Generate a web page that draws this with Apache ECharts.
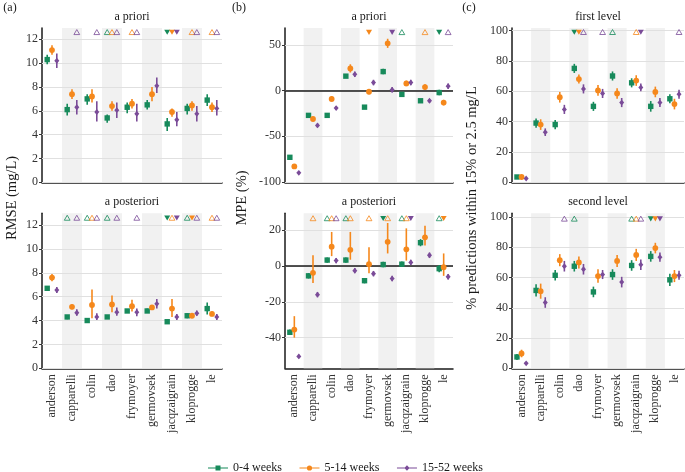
<!DOCTYPE html>
<html><head><meta charset="utf-8">
<script src="https://cdn.jsdelivr.net/npm/echarts@6/dist/echarts.min.js"></script>
<style>html,body{margin:0;padding:0;background:#fff}#c{width:685px;height:472px}</style>
</head><body><div id="c"></div>
<script>
// ---------------- data ----------------
const categories = ['anderson','capparelli','colin','dao','frymoyer','germovsek','jacqzaigrain','kloprogge','le'];
const groups = ['0-4 weeks','5-14 weeks','15-52 weeks'];

// RMSE (mg/L), a priori  [group][category]
const rmsePrioriMean = [[10.3,6.1,7.0,5.4,6.3,6.5,4.9,6.2,6.9],[11.1,7.4,7.2,6.4,6.6,7.4,5.9,6.45,6.3],[10.2,6.3,5.9,6.05,5.75,8.1,5.25,5.75,6.2]];
const rmsePrioriLo   = [[9.9,5.6,6.5,5.0,5.8,6.1,4.3,5.7,6.4],[10.7,7.0,6.7,6.0,6.2,6.8,5.5,6.0,5.9],[9.6,5.7,5.1,5.4,5.1,7.5,4.7,5.1,5.6]];
const rmsePrioriHi   = [[10.7,6.6,7.4,5.7,6.7,6.9,5.4,6.6,7.4],[11.5,7.8,7.8,6.8,7.0,8.0,6.2,6.8,6.7],[10.8,6.9,6.8,6.7,6.6,8.8,5.9,6.4,6.9]];
const rmsePrioriFlags = [['','','','u','','','d','',''],['','','','u','u','','d','u','u'],['','u','u','u','u','','d','u','u']];

// RMSE (mg/L), a posteriori
const rmsePostMean = [[6.7,4.3,4.0,4.3,4.8,4.8,3.9,4.4,5.0],[7.6,5.15,5.3,5.35,5.2,5.1,5.0,4.4,4.55],[6.55,4.65,4.3,4.7,4.7,5.4,4.3,4.6,4.3]];
const rmsePostLo   = [[6.5,4.1,3.85,4.15,4.65,4.65,3.75,4.2,4.5],[7.3,4.95,4.2,4.7,4.75,4.9,4.3,4.25,4.35],[6.3,4.4,4.05,4.4,4.35,5.0,4.05,4.4,4.05]];
const rmsePostHi   = [[6.9,4.45,4.1,4.45,4.95,5.0,4.0,4.6,5.5],[7.9,5.35,6.6,6.1,5.75,5.3,5.8,4.55,4.75],[6.8,4.95,4.6,5.1,5.0,5.8,4.55,4.85,4.55]];
const rmsePostFlags = [['','u','u','u','','','d','u',''],['','','u','','','','u','d','u'],['','u','u','u','u','','d','u','u']];

// MPE (%), a priori
const mpePrioriMean = [[-73,-27,-27,16,-18,21,-4,-11,-2],[-83,-31,-9,24.5,-1,52,8,4,-13],[-90,-38,-19,18,9,1,9,-11,5]];
const mpePrioriLo   = [[-74.5,-28.5,-28.5,14,-19.5,18,-5.5,-12.5,-5],[-84.5,-33,-12,20,-4,47,5,1,-16],[-91.5,-40,-21,15,6,-2,6,-13,2]];
const mpePrioriHi   = [[-71.5,-25.5,-25.5,18,-16.5,24,-2.5,-9.5,1],[-81.5,-29,-6,29,2,57,11,7,-10],[-88.5,-36,-17,21,12,4,12,-9,8]];
const mpePrioriFlags = [['','','','','','','u','','d'],['','','','','d','','','u',''],['','','','','','d','','','u']];

// MPE (%), a posteriori
const mpePostMean = [[-37,-5.5,3.3,3.3,-8.2,0.8,1,13,-1.5],[-35.5,-3.8,10.8,9,1,13.5,9.3,16,-0.7],[-50.5,-16,3,-2.6,-4.3,-7,2,6,-6]];
const mpePostLo   = [[-38.5,-7,1.8,1.8,-9.7,-0.7,-0.5,11,-3.5],[-40,-9.5,5.5,3.5,-4,7,3,11.5,-5.5],[-51.5,-17.5,1.5,-4.1,-5.8,-8.5,0.5,4.5,-7.5]];
const mpePostHi   = [[-35.5,-4,4.8,4.8,-6.7,2.3,2.5,15,0.5],[-28,6,19,19,10.5,24,21,22.5,7],[-49.5,-14.5,4.5,-1.1,-2.8,-5.5,3.5,7.5,-4.5]];
const mpePostFlags = [['','','u','u','','d','u','','u'],['','u','u','u','u','u','u','','d'],['','','u','','','','d','','']];

// % predictions within 15% or 2.5 mg/L, first level
const ptaFirstMean = [[3.5,39,38,75,50,70,65.5,50,55],[3.5,38,56,68,60.5,58.5,67,59.5,51.5],[2.5,33,48,61.5,58.5,52.5,62.5,52.5,58]];
const ptaFirstLo   = [[2.5,36,35,72,47,67,62.5,46.5,52],[2.5,34.5,52.5,65,57,55,63.5,56,48],[1.5,30.5,45,58.5,55.5,49.5,60,49.5,55]];
const ptaFirstHi   = [[4.5,42,41,78,53,73,68.5,53.5,58],[4.5,41.5,59.5,71,64,62,70.5,63,55],[3.5,35.5,51,64.5,61.5,55.5,65,55.5,61]];
const ptaFirstFlags = [['','','','d','','u','','',''],['','','','d','','','u','',''],['','','','u','u','','d','','u']];

// % predictions within 15% or 2.5 mg/L, second level
const ptaSecondMean = [[7.5,51.5,61.5,67.5,50.5,62,68,74,58.5],[9.8,51,71.5,70,61,71,75,79.5,61],[3.3,43.5,67.5,65.5,62,57,68.5,73.5,61.5]];
const ptaSecondLo   = [[5.5,47.5,58,64,47,58.5,64.5,70.5,54.5],[7.3,46,67.5,66,56.5,67,71,76,57],[2.5,40,64,62,59,53.5,65,70.5,58.5]];
const ptaSecondHi   = [[9.5,55.5,65,71,54,65.5,71.5,77.5,62.5],[12.3,56,75.5,74,65.5,75,79,83,65],[4.1,47,71,69,65,60.5,72,76.5,64.5]];
const ptaSecondFlags = [['','','','u','','','u','d',''],['','','','','','','u','d',''],['','','u','','','','u','d','']];

// tick labels
const rmseTicks = [0,2,4,6,8,10,12];
const mpePrioriTicks = [-100,-50,0,50];
const mpePostTicks = [-40,-20,0,20];
const ptaTicks = [0,20,40,60,80,100];

// ---------------- panels ----------------
const panels = [
  {title:'a priori', mean:rmsePrioriMean, lo:rmsePrioriLo, hi:rmsePrioriHi, flags:rmsePrioriFlags, flagY:12.6, min:0, max:12.95, ticks:rmseTicks, zero:false, col:0, row:0},
  {title:'a posteriori', mean:rmsePostMean, lo:rmsePostLo, hi:rmsePostHi, flags:rmsePostFlags, flagY:12.6, min:0, max:12.98, ticks:rmseTicks, zero:false, col:0, row:1},
  {title:'a priori', mean:mpePrioriMean, lo:mpePrioriLo, hi:mpePrioriHi, flags:mpePrioriFlags, flagY:64.2, min:-100.4, max:68.8, ticks:mpePrioriTicks, zero:true, col:1, row:0},
  {title:'a posteriori', mean:mpePostMean, lo:mpePostLo, hi:mpePostHi, flags:mpePostFlags, flagY:26.6, min:-57.1, max:29.4, ticks:mpePostTicks, zero:true, col:1, row:1},
  {title:'first level', mean:ptaFirstMean, lo:ptaFirstLo, hi:ptaFirstHi, flags:ptaFirstFlags, flagY:98.9, min:0, max:101.6, ticks:ptaTicks, zero:false, col:2, row:0},
  {title:'second level', mean:ptaSecondMean, lo:ptaSecondLo, hi:ptaSecondHi, flags:ptaSecondFlags, flagY:98.9, min:0, max:102.5, ticks:ptaTicks, zero:false, col:2, row:1}
];

// ---------------- layout & style ----------------
const cols = [{left:42,width:180},{left:285,width:168},{left:512,width:172}];
const rows = [{top:28,height:154.3,titleY:16.5},{top:213.3,height:155,titleY:201.5}];
const colors = ['#178a5b','#f5881c','#7a4b98'];
const dodge = [-0.24, 0, 0.24];
const FONT = '"Liberation Serif", "DejaVu Serif", serif';
const TXT = '#1a1a1a';

function bandRender(params, api){
  const cs = params.coordSys;
  const x = api.coord([api.value(0), 0])[0];
  const bw = api.size([1,0])[0];
  return {type:'rect', shape:{x:x-bw/2, y:cs.y, width:bw, height:cs.height}, style:{fill:'#f1f1f1'}};
}
function makePointRender(g){
  return function(params, api){
    const c = api.coord([api.value(0), api.value(1)]);
    const bw = api.size([1,0])[0];
    const x = c[0] + dodge[g]*bw, y = c[1];
    const yl = api.coord([api.value(0), api.value(2)])[1];
    const yh = api.coord([api.value(0), api.value(3)])[1];
    const col = colors[g];
    const ch = [{type:'line', shape:{x1:x,y1:yl,x2:x,y2:yh}, style:{stroke:col, lineWidth:1.6}}];
    if (g===0) ch.push({type:'rect', shape:{x:x-2.7,y:y-2.7,width:5.4,height:5.4}, style:{fill:col}});
    else if (g===1) ch.push({type:'circle', shape:{cx:x,cy:y,r:2.9}, style:{fill:col}});
    else ch.push({type:'polygon', shape:{points:[[x,y-2.9],[x+2.5,y],[x,y+2.9],[x-2.5,y]]}, style:{fill:col}});
    return {type:'group', children:ch};
  };
}
function makeFlagRender(g){
  return function(params, api){
    const c = api.coord([api.value(0), api.value(1)]);
    const bw = api.size([1,0])[0];
    const x = c[0] + dodge[g]*bw, y = c[1];
    const col = colors[g];
    if (api.value(2) === 1) {
      return {type:'polygon', shape:{points:[[x,y-2.6],[x+2.9,y+2.4],[x-2.9,y+2.4]]}, style:{fill:'none', stroke:col, lineWidth:0.8}};
    }
    return {type:'polygon', shape:{points:[[x-3,y-2.4],[x+3,y-2.4],[x,y+2.7]]}, style:{fill:col}};
  };
}

const grid = [], xAxis = [], yAxis = [], series = [], graphic = [];
panels.forEach((p, pi) => {
  const c = cols[p.col], r = rows[p.row];
  grid.push({left:c.left, top:r.top, width:c.width, height:r.height, containLabel:false});
  xAxis.push({
    type:'category', gridIndex:pi, data:categories, boundaryGap:true,
    axisLine:{show:true, onZero:false, lineStyle:{color:TXT, width:1.5}},
    axisTick:{show:false},
    splitLine:{show:false},
    axisLabel: p.row===1 ? {show:true, rotate:90, interval:0, fontFamily:FONT, fontSize:12, color:'#333', margin:6} : {show:false}
  });
  yAxis.push({
    type:'value', gridIndex:pi, min:p.min, max:p.max,
    axisLine:{show:true, lineStyle:{color:TXT, width:1.5}},
    axisTick:{show:true, length:3, customValues:p.ticks, lineStyle:{color:'#333', width:1}},
    axisLabel:{show:true, customValues:p.ticks, fontFamily:FONT, fontSize:12, color:'#333', margin:4},
    splitLine:{show:false}
  });
  const mlData = p.ticks.map(v => ({yAxis:v, lineStyle:{color:'#e0e0e0', width:1.2, type:'solid'}}));
  if (p.zero) mlData.push({yAxis:0, lineStyle:{color:TXT, width:1.6, type:'solid'}});
  series.push({
    type:'custom', xAxisIndex:pi, yAxisIndex:pi, z:1, silent:true, animation:false,
    data: categories.map((cat,i)=>[i, p.min]).filter(d => d[0]%2===1),
    renderItem: bandRender,
    markLine:{silent:true, animation:false, symbol:['none','none'], label:{show:false}, data: mlData}
  });
  for (let g=0; g<3; g++){
    series.push({
      type:'custom', name:groups[g], xAxisIndex:pi, yAxisIndex:pi, z:5, animation:false,
      itemStyle:{color:colors[g]},
      data: categories.map((cat,i)=>[i, p.mean[g][i], p.lo[g][i], p.hi[g][i]]),
      encode:{x:0, y:[1,2,3]},
      renderItem: makePointRender(g)
    });
    const fd = [];
    p.flags[g].forEach((f,i)=>{ if (f==='u') fd.push([i, p.flagY, 1]); else if (f==='d') fd.push([i, p.flagY, 2]); });
    series.push({
      type:'custom', name:groups[g], xAxisIndex:pi, yAxisIndex:pi, z:6, animation:false,
      itemStyle:{color:colors[g]},
      data: fd, encode:{x:0, y:1},
      renderItem: makeFlagRender(g)
    });
  }
  graphic.push({type:'text', x:c.left + c.width/2, y:r.titleY,
    style:{text:p.title, font:'12px ' + FONT, fill:TXT, align:'center', verticalAlign:'middle', textAlign:'center', textVerticalAlign:'middle'}});
});

const yTitles = [
  {text:'RMSE (mg/L)', x:12},
  {text:'MPE (%)', x:242},
  {text:'% predictions within 15% or 2.5 mg/L', x:472}
];
yTitles.forEach(t => graphic.push({type:'text', x:t.x, y:198, rotation:Math.PI/2,
  style:{text:t.text, font:'14.5px ' + FONT, fill:TXT, align:'center', verticalAlign:'middle', textAlign:'center', textVerticalAlign:'middle'}}));
const letters = [{text:'(a)', x:10},{text:'(b)', x:239},{text:'(c)', x:469}];
letters.forEach(t => graphic.push({type:'text', x:t.x, y:8,
  style:{text:t.text, font:'12px ' + FONT, fill:TXT, align:'center', verticalAlign:'middle', textAlign:'center', textVerticalAlign:'middle'}}));

const icons = [
  'path://M0,3.4H20V4.6H0Z M7.5,1.5H12.5V6.5H7.5Z',
  'path://M0,3.4H20V4.6H0Z M12.6,4A2.6,2.6,0,1,1,7.4,4A2.6,2.6,0,1,1,12.6,4Z',
  'path://M0,3.4H20V4.6H0Z M10,1.3L12.6,4L10,6.7L7.4,4Z'
];

const chart = echarts.init(document.getElementById('c'), null, {renderer:'canvas'});
chart.setOption({
  animation:false,
  backgroundColor:'#ffffff',
  grid, xAxis, yAxis, series, graphic,
  legend:{
    left:208, top:462, padding:0, itemWidth:20, itemHeight:6, itemGap:17.5,
    data: groups.map((g,i)=>({name:g, icon:icons[i], itemStyle:{color:colors[i]}})),
    textStyle:{fontFamily:FONT, fontSize:12, color:TXT}
  }
});
</script>
</body></html>
